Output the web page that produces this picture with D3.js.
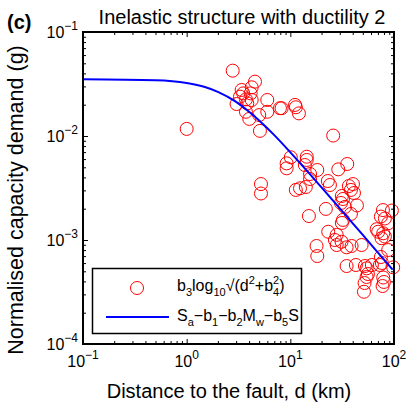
<!DOCTYPE html>
<html><head><meta charset="utf-8">
<script src="https://cdn.jsdelivr.net/npm/d3@7"></script>
<style>html,body{margin:0;padding:0;background:#fff;}svg{display:block;font-family:"Liberation Sans",Arial,Helvetica,sans-serif;}</style>
</head><body>
<svg id="c" width="409" height="410"></svg>
<script>
// ---- data ----
const distanceKm = [2.78,1.0,4.56,4.24,3.39,3.51,4.14,3.27,3.73,4.24,3.03,3.84,5.99,3.73,5.99,5.01,4.02,5.09,7.94,8.24,
  11.1,11.3,12.1,25.9,10.1,9.21,9.21,14.4,14.4,13.8,18.2,29.0,35.4,23.0,40.2,5.21,15.5,15.5,5.21,11.3,
  12.4,14.1,24.1,36.7,38.4,41.1,31.4,32.2,30.8,43.9,22.0,33.6,38.4,15.1,32.2,31.4,78.2,95.4,74.7,81.7,
  87.9,68.0,70.4,78.7,81.7,75.9,23.2,28.0,26.9,31.2,34.9,39.0,48.7,87.9,17.9,18.2,28.0,74.7,76.4,98.2,
  34.9,42.9,52.4,54.4,61.2,73.1,56.0,54.4,78.7,79.9,77.6,51.3,52.0];
const demandG = [0.0425,0.0117,0.0333,0.0294,0.0277,0.0257,0.0257,0.0239,0.0225,0.0222,0.0203,0.0206,0.0222,0.0171,0.0171,0.0159,0.0146,0.0112,0.0185,0.0185,
  0.0199,0.0189,0.0165,0.0101,0.00624,0.00546,0.00489,0.00632,0.00588,0.00526,0.00471,0.00478,0.00538,0.00369,0.00345,0.00345,0.00386,0.00431,0.0028,0.00303,
  0.00314,0.00323,0.00338,0.0033,0.00303,0.00283,0.00265,0.00248,0.00227,0.00215,0.00199,0.00208,0.00178,0.0017,0.00156,0.00146,0.00194,0.00192,0.00168,0.00161,
  0.00145,0.00127,0.0012,0.00116,0.00108,0.00104,0.0012,0.00112,0.001,0.000963,0.000851,0.000876,0.000895,0.000801,0.000876,0.000701,0.000895,0.000686,0.000601,0.000546,
  0.000562,0.000575,0.000562,0.000534,0.000575,0.000575,0.000471,0.000441,0.000436,0.000395,0.000361,0.000318,0.000386];
const curveD = [0.1,0.5,1,1.5,2,3,4,5,7,10,15,20,30,50,70,97];
const curveV = [0.0351,0.0344,0.0324,0.0296,0.0266,0.0213,0.0171,0.0141,0.0102,0.00697,0.00444,0.0032,0.00201,0.00112,0.000755,0.000518];
const xMajor = [0.1,1,10,100];
const xExp = ["\u22121","0","1","2"];
const yMajor = [1e-4,1e-3,1e-2,1e-1];
const yExp = ["\u22124","\u22123","\u22122","\u22121"];
const titleText = "Inelastic structure with ductility 2";
const panelText = "(c)";
const xLabel = "Distance to the fault, d (km)";
const yLabel = "Normalised capacity demand (g)";

// ---- layout ----
const L=83,R=394,T=32,B=344;
const svg=d3.select("#c");
const x=d3.scaleLog().domain([0.1,100]).range([L,R]);
const y=d3.scaleLog().domain([1e-4,1e-1]).range([B,T]);
function minors(dom){const out=[];let lo=Math.log10(dom[0]),hi=Math.log10(dom[1]);
  for(let e=lo;e<hi;e++){for(let k=2;k<=9;k++)out.push(k*Math.pow(10,e));}return out;}
const xMin=minors(x.domain()), yMin=minors(y.domain());

function tickAxis(axisFn,scale,vals,len,tr){
  const g=svg.append("g").attr("transform",tr).call(axisFn(scale).tickValues(vals).tickSize(len).tickFormat(""));
  g.select(".domain").remove();
  g.selectAll("line").attr("stroke","#000").attr("stroke-width",1);
  return g;
}
// inward ticks on all sides
tickAxis(d3.axisBottom,x,xMajor,-5,`translate(0,${B})`);
tickAxis(d3.axisBottom,x,xMin,-3,`translate(0,${B})`);
tickAxis(d3.axisTop,x,xMajor,-5,`translate(0,${T})`);
tickAxis(d3.axisTop,x,xMin,-3,`translate(0,${T})`);
tickAxis(d3.axisLeft,y,yMajor,-5,`translate(${L},0)`);
tickAxis(d3.axisLeft,y,yMin,-3,`translate(${L},0)`);
tickAxis(d3.axisRight,y,yMajor,-5,`translate(${R},0)`);
tickAxis(d3.axisRight,y,yMin,-3,`translate(${R},0)`);

// tick labels with superscripts
const xl=svg.append("g").selectAll("text").data(xMajor).join("text")
  .attr("x",d=>x(d)).attr("y",B+23).attr("text-anchor","middle").attr("font-size",16).attr("fill","#000");
xl.append("tspan").text("10");
xl.append("tspan").attr("dy",-8).attr("font-size",12).text((d,i)=>xExp[i]);
const yl=svg.append("g").selectAll("text").data(yMajor).join("text")
  .attr("x",78).attr("y",d=>y(d)+6).attr("text-anchor","end").attr("font-size",16).attr("fill","#000");
yl.append("tspan").text("10");
yl.append("tspan").attr("dy",-8).attr("font-size",12).text((d,i)=>yExp[i]);

// data circles
svg.append("g").selectAll("circle").data(distanceKm).join("circle")
  .attr("cx",d=>x(d)).attr("cy",(d,i)=>y(demandG[i])).attr("r",6.5)
  .attr("fill","none").attr("stroke","#ff0000").attr("stroke-width",1);

// fitted curve
const line=d3.line().x(d=>x(d[0])).y(d=>y(d[1])).curve(d3.curveMonotoneX);
svg.append("path").datum(curveD.map((d,i)=>[d,curveV[i]])).attr("d",line)
  .attr("fill","none").attr("stroke","#0000ff").attr("stroke-width",2);

// frame
svg.append("rect").attr("x",L).attr("y",T).attr("width",R-L).attr("height",B-T)
  .attr("fill","none").attr("stroke","#000").attr("stroke-width",2);

// legend
const lg=svg.append("g");
lg.append("rect").attr("x",92.5).attr("y",268.5).attr("width",209).attr("height",65)
  .attr("fill","#fff").attr("stroke","#000").attr("stroke-width",1.5);
lg.append("circle").attr("cx",137).attr("cy",288).attr("r",6.5).attr("fill","none").attr("stroke","#ff0000").attr("stroke-width",1);
lg.append("line").attr("x1",106).attr("x2",169).attr("y1",317).attr("y2",317).attr("stroke","#0000ff").attr("stroke-width",2);
function rich(parent,xx,yy,parts){
  const t=parent.append("text").attr("x",xx).attr("y",yy).attr("font-size",16).attr("fill","#000");
  let shift=0;
  parts.forEach(p=>{
    const s=t.append("tspan").text(p.t);
    let target=p.k==="sub"?5:p.k==="sup"?-7:0;
    if(p.k)s.attr("font-size",11);
    if(p.dx)s.attr("dx",p.dx);
    s.attr("dy",target-shift);shift=target;
  });
  return t;
}
rich(lg,177,291,[{t:"b"},{t:"3",k:"sub"},{t:"log"},{t:"10",k:"sub"},{t:"\u221A(d"},{t:"2",k:"sup"},{t:"+b"},{t:"4",k:"sub"},{t:"2",k:"sup",dx:-6.1},{t:")"}]);
rich(lg,177,321,[{t:"S"},{t:"a",k:"sub"},{t:"\u2212b"},{t:"1",k:"sub"},{t:"\u2212b"},{t:"2",k:"sub"},{t:"M"},{t:"w",k:"sub"},{t:"\u2212b"},{t:"5",k:"sub"},{t:"S"}]);

// titles
svg.append("text").attr("x",242).attr("y",24).attr("text-anchor","middle").attr("font-size",20).text(titleText);
svg.append("text").attr("x",7).attr("y",29).attr("font-size",20).attr("font-weight","bold").text(panelText);
svg.append("text").attr("x",229).attr("y",398).attr("text-anchor","middle").attr("font-size",20).text(xLabel);
svg.append("text").attr("transform","translate(23,200) rotate(-90)").attr("text-anchor","middle").attr("font-size",21.5).text(yLabel);
</script>
</body></html>
